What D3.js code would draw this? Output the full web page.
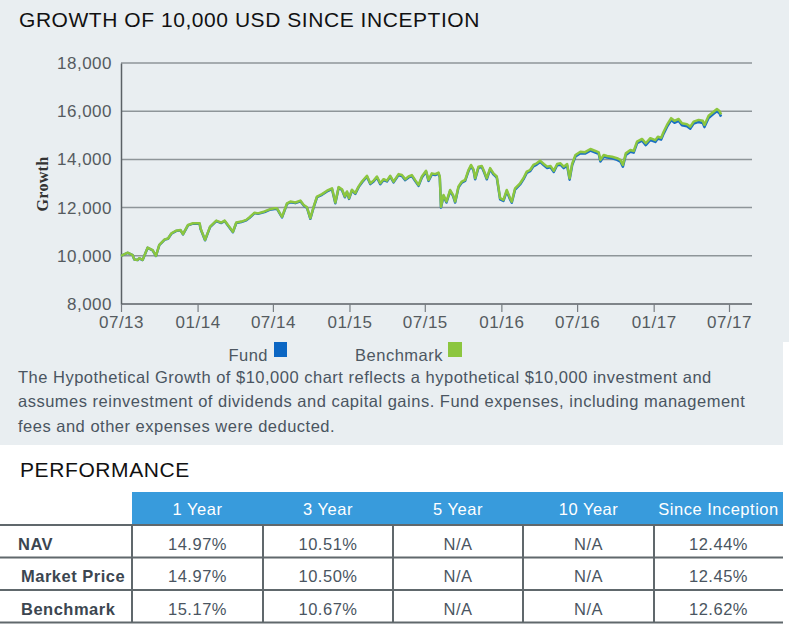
<!DOCTYPE html>
<html>
<head>
<meta charset="utf-8">
<script src="https://cdn.jsdelivr.net/npm/d3@7/dist/d3.min.js"></script>
<style>
  html, body { margin: 0; padding: 0; background: #ffffff; }
  svg { display: block; }
  text { font-family: "Liberation Sans", Arial, Helvetica, sans-serif; letter-spacing: 0.5px; }
</style>
</head>
<body>
<svg id="chart" width="789" height="631"></svg>
<script>
// ---------------- DATA ----------------
const dates = [
"2013-07-01","2013-07-17","2013-07-29","2013-08-02","2013-08-10","2013-08-14","2013-08-22","2013-09-03","2013-09-15","2013-09-23",
"2013-10-01","2013-10-14","2013-10-22","2013-10-30","2013-11-10","2013-11-21","2013-11-27","2013-12-09","2013-12-21","2014-01-06",
"2014-01-08","2014-01-19","2014-01-31","2014-02-15","2014-02-27","2014-03-07","2014-03-15","2014-03-27","2014-04-04","2014-04-16",
"2014-04-28","2014-05-06","2014-05-18","2014-05-26","2014-06-11","2014-06-23","2014-07-05","2014-07-11","2014-07-19","2014-07-23",
"2014-08-04","2014-08-12","2014-08-24","2014-09-05","2014-09-13","2014-09-21","2014-09-29","2014-10-07","2014-10-15","2014-10-27",
"2014-11-08","2014-11-20","2014-11-28","2014-12-06","2014-12-14","2014-12-21","2014-12-26","2014-12-31","2015-01-07","2015-01-15",
"2015-01-23","2015-01-31","2015-02-12","2015-02-20","2015-02-28","2015-03-08","2015-03-16","2015-03-24","2015-04-01","2015-04-09",
"2015-04-17","2015-04-29","2015-05-07","2015-05-15","2015-05-23","2015-05-31","2015-06-08","2015-06-16","2015-06-24","2015-07-04",
"2015-07-10","2015-07-18","2015-07-26","2015-08-03","2015-08-06","2015-08-09","2015-08-15","2015-08-22","2015-08-31","2015-09-07",
"2015-09-12","2015-09-20","2015-09-28","2015-10-06","2015-10-14","2015-10-20","2015-10-26","2015-10-30","2015-11-07","2015-11-15",
"2015-11-21","2015-11-27","2015-12-05","2015-12-13","2015-12-21","2015-12-29","2016-01-06","2016-01-14","2016-01-22","2016-01-26",
"2016-02-03","2016-02-15","2016-02-23","2016-03-02","2016-03-10","2016-03-18","2016-03-26","2016-04-03","2016-04-12","2016-04-20",
"2016-04-28","2016-05-06","2016-05-14","2016-05-22","2016-05-30","2016-06-07","2016-06-13","2016-06-19","2016-06-27","2016-07-09",
"2016-07-20","2016-08-02","2016-08-14","2016-08-22","2016-08-26","2016-09-03","2016-09-11","2016-09-23","2016-10-05","2016-10-13",
"2016-10-19","2016-10-26","2016-11-06","2016-11-14","2016-11-22","2016-12-04","2016-12-13","2016-12-24","2017-01-05","2017-01-11",
"2017-01-19","2017-01-25","2017-02-02","2017-02-12","2017-02-20","2017-03-02","2017-03-10","2017-03-22","2017-03-30","2017-04-07",
"2017-04-19","2017-04-29","2017-05-03","2017-05-13","2017-05-25","2017-06-02","2017-06-08","2017-06-12"
];
const benchmark = [
10000,10130,10030,9850,9830,9900,9830,10340,10240,10000,
10450,10680,10720,10930,11040,11070,10900,11280,11350,11350,
11140,10660,11210,11460,11380,11460,11280,11000,11380,11420,
11490,11600,11790,11760,11840,11930,11970,11970,11730,11620,
12180,12250,12210,12290,12110,12010,11560,12040,12460,12560,
12700,12800,12210,12850,12760,12460,12670,12390,12740,12600,
12880,13080,13320,13010,13120,13290,13010,13180,13120,13320,
13080,13390,13350,13180,13290,13350,13140,12940,13290,13530,
13150,13420,13390,13450,13290,12040,12520,12250,12730,12520,
12250,12880,13080,13150,13560,13770,13590,13220,13700,13730,
13490,13220,13640,13420,13290,12390,12320,12730,12390,12250,
12800,13010,13220,13490,13560,13770,13840,13950,13810,13700,
13730,13530,13810,13840,13700,13810,13220,13810,14180,14320,
14300,14430,14350,14290,13980,14180,14140,14110,14050,13980,
13770,14250,14390,14350,14740,14850,14670,14880,14800,14940,
14900,15150,15430,15710,15600,15680,15500,15460,15360,15570,
15640,15600,15430,15810,15980,16090,16010,15870
];
const fund = [
10000,10125,10025,9845,9825,9895,9825,10330,10230,9990,
10440,10670,10710,10915,11025,11055,10885,11265,11335,11335,
11125,10645,11190,11440,11360,11440,11260,10980,11360,11400,
11470,11580,11770,11740,11815,11905,11945,11945,11705,11595,
12155,12225,12185,12265,12085,11985,11535,12015,12430,12530,
12670,12770,12180,12820,12730,12430,12640,12360,12710,12570,
12850,13045,13285,12975,13085,13255,12975,13145,13085,13285,
13045,13350,13310,13140,13250,13310,13100,12900,13250,13490,
13110,13380,13350,13410,13250,12000,12480,12210,12690,12480,
12210,12840,13040,13105,13515,13725,13545,13175,13655,13685,
13445,13175,13595,13375,13245,12345,12275,12680,12340,12200,
12750,12960,13170,13440,13510,13715,13785,13895,13755,13645,
13675,13475,13755,13780,13640,13750,13160,13750,14120,14260,
14240,14365,14285,14225,13915,14115,14075,14045,13980,13910,
13700,14180,14320,14280,14670,14775,14595,14805,14725,14865,
14820,15070,15350,15630,15520,15595,15415,15375,15275,15485,
15555,15510,15340,15720,15890,15995,15915,15775
];
const yTicks = [8000, 10000, 12000, 14000, 16000, 18000];
const xTickDates = ["2013-07-01","2014-01-01","2014-07-01","2015-01-01","2015-07-01","2016-01-01","2016-07-01","2017-01-01","2017-07-01"];

const perfColumns = ["1 Year", "3 Year", "5 Year", "10 Year", "Since Inception"];
const perfRows = ["NAV", "Market Price", "Benchmark"];
const perfNAV = ["14.97%", "10.51%", "N/A", "N/A", "12.44%"];
const perfMarket = ["14.97%", "10.50%", "N/A", "N/A", "12.45%"];
const perfBench = ["15.17%", "10.67%", "N/A", "N/A", "12.62%"];

const descLines = [
  "The Hypothetical Growth of $10,000 chart reflects a hypothetical $10,000 investment and",
  "assumes reinvestment of dividends and capital gains. Fund expenses, including management",
  "fees and other expenses were deducted."
];

// ---------------- DRAW ----------------
const parse = d3.timeParse("%Y-%m-%d");
const svg = d3.select("#chart");

// background panels
svg.append("rect").attr("x", 0).attr("y", 0).attr("width", 789).attr("height", 342).attr("fill", "#e9eef1");
svg.append("rect").attr("x", 0).attr("y", 342).attr("width", 783).attr("height", 103).attr("fill", "#e9eef1");

// title
svg.append("text").attr("x", 19).attr("y", 27).attr("font-size", 21).attr("fill", "#111")
  .style("letter-spacing", "0.55px")
  .text("GROWTH OF 10,000 USD SINCE INCEPTION");

const x = d3.scaleTime().domain([parse("2013-07-01"), parse("2017-07-01")]).range([121, 729]);
const y = d3.scaleLinear().domain([8000, 18000]).range([304, 63]);
const gridRight = 752;

// gridlines
svg.append("g").selectAll("line").data(yTicks.filter(v => v > 8000)).join("line")
  .attr("x1", 121).attr("x2", gridRight)
  .attr("y1", d => y(d)).attr("y2", d => y(d))
  .attr("stroke", "#8e9599").attr("stroke-width", 1.5);

// y axis
const yAxis = svg.append("g").attr("transform", "translate(121,0)")
  .call(d3.axisLeft(y).tickValues(yTicks).tickSize(0).tickPadding(9).tickFormat(d3.format(",")));
yAxis.select(".domain").attr("stroke", "#5b6166").attr("stroke-width", 1.5);
yAxis.selectAll("text").attr("font-size", 17).attr("fill", "#555b60");

// x axis
const xAxis = svg.append("g").attr("transform", "translate(0,304)")
  .call(d3.axisBottom(x).tickValues(xTickDates.map(parse)).tickSize(8).tickSizeOuter(0).tickPadding(4)
    .tickFormat(d3.timeFormat("%m/%y")));
xAxis.select(".domain").attr("d", `M121,0H${gridRight}`).attr("stroke", "#5b6166").attr("stroke-width", 1.5);
xAxis.selectAll(".tick line").attr("stroke", "#777d82").attr("stroke-width", 1.2);
xAxis.selectAll("text").attr("font-size", 17).attr("fill", "#555b60");

// y label
svg.append("text").attr("transform", "translate(48,184) rotate(-90)")
  .attr("text-anchor", "middle").attr("font-size", 16).attr("font-weight", "bold")
  .style("font-family", "'Liberation Serif', 'Times New Roman', serif")
  .style("letter-spacing", "0.3px")
  .attr("fill", "#333")
  .text("Growth");

// lines
const fundData = dates.map((d, i) => ({ date: parse(d), value: fund[i] }));
const benchData = dates.map((d, i) => ({ date: parse(d), value: benchmark[i] }));
const line = d3.line().x(d => x(d.date)).y(d => y(d.value));
svg.append("path").datum(fundData).attr("d", line).attr("fill", "none")
  .attr("stroke", "#1a6fc4").attr("stroke-width", 2.5).attr("stroke-linejoin", "round");
svg.append("path").datum(benchData).attr("d", line).attr("fill", "none")
  .attr("stroke", "#8cc63f").attr("stroke-width", 2.5).attr("stroke-linejoin", "round");

// legend
svg.append("text").attr("x", 268).attr("y", 361).attr("text-anchor", "end").attr("font-size", 16.5).attr("fill", "#4d5761").text("Fund");
svg.append("rect").attr("x", 274).attr("y", 342).attr("width", 13).attr("height", 15).attr("fill", "#0b66c3");
svg.append("text").attr("x", 443).attr("y", 361).attr("text-anchor", "end").attr("font-size", 16.5).attr("fill", "#4d5761").text("Benchmark");
svg.append("rect").attr("x", 448).attr("y", 342).attr("width", 14).attr("height", 15).attr("fill", "#8cc63f");

// description
svg.append("g").selectAll("text").data(descLines).join("text")
  .attr("x", 18).attr("y", (d, i) => 383 + i * 24.3)
  .attr("font-size", 16.5).attr("fill", "#4a5561").text(d => d);

// performance title
svg.append("text").attr("x", 20).attr("y", 477).attr("font-size", 21).attr("fill", "#111")
  .style("letter-spacing", "0.6px").text("PERFORMANCE");

// table
const colEdges = [0, 132, 263, 393, 523, 654, 783];
const rowLines = [525, 557.5, 590, 622.5];
const tableVals = [perfNAV, perfMarket, perfBench];

svg.append("rect").attr("x", 132).attr("y", 492).attr("width", 783 - 132).attr("height", 33).attr("fill", "#389bdc");
svg.append("g").selectAll("text").data(perfColumns).join("text")
  .attr("x", (d, i) => (colEdges[i + 1] + colEdges[i + 2]) / 2).attr("y", 515)
  .attr("text-anchor", "middle").attr("font-size", 16.5).attr("fill", "#ffffff").text(d => d);

svg.append("g").selectAll("text").data(perfRows).join("text")
  .attr("x", (d, i) => i === 0 ? 18 : 21).attr("y", (d, i) => rowLines[i] + 24.5)
  .attr("font-size", 16.5).attr("font-weight", "bold").attr("fill", "#3c4650").text(d => d);

tableVals.forEach((vals, r) => {
  svg.append("g").selectAll("text").data(vals).join("text")
    .attr("x", (d, i) => (colEdges[i + 1] + colEdges[i + 2]) / 2).attr("y", rowLines[r] + 24.5)
    .attr("text-anchor", "middle").attr("font-size", 16.5).attr("fill", "#4a5561").text(d => d);
});

svg.append("g").selectAll("line").data(rowLines).join("line")
  .attr("x1", 0).attr("x2", 783).attr("y1", d => d).attr("y2", d => d)
  .attr("stroke", "#60686c").attr("stroke-width", 2);
svg.append("g").selectAll("line").data(colEdges.slice(1, 6)).join("line")
  .attr("x1", d => d).attr("x2", d => d).attr("y1", 525).attr("y2", 623)
  .attr("stroke", "#60686c").attr("stroke-width", 2);
</script>
</body>
</html>
